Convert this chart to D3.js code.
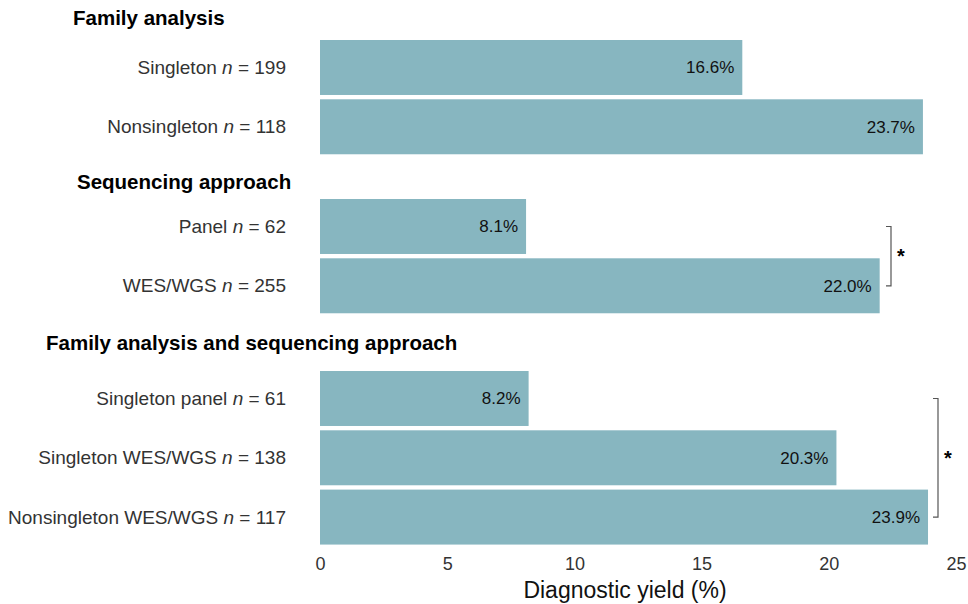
<!DOCTYPE html>
<html lang="en">
<head>
<meta charset="UTF-8" />
<title>Diagnostic yield</title>
<script src="https://d3js.org/d3.v7.min.js"></script>
<style>
    body { margin: 0; background: #fff; font-family: "Liberation Sans", Arial, sans-serif; }
</style>
</head>
<body>
<div id="chart"></div>
<script>
    // data
    const sections = ["Family analysis", "Sequencing approach", "Family analysis and sequencing approach"];
    const categories = [
        ["Singleton", "Nonsingleton"],
        ["Panel", "WES/WGS"],
        ["Singleton panel", "Singleton WES/WGS", "Nonsingleton WES/WGS"]
    ];
    const counts = [[199, 118], [62, 255], [61, 138, 117]];
    const yields = [[16.6, 23.7], [8.1, 22.0], [8.2, 20.3, 23.9]];
    const xTicks = [0, 5, 10, 15, 20, 25];
    // significance brackets: [section, first row, last row]
    const brackets = [[1, 0, 1], [2, 0, 2]];

    const width = 968, height = 604;
    const svg = d3.select("#chart").append("svg")
        .attr("width", width).attr("height", height);

    const x = d3.scaleLinear().domain([0, 25]).range([320, 956]);

    // layout of each section
    const sectionTop = [40, 199, 371];
    const headerY = [18, 182, 343];
    const headerX = [73, 77, 46];
    const step = 59.3;

    const yScales = categories.map((cats, i) => d3.scaleBand()
        .domain(cats)
        .range([sectionTop[i], sectionTop[i] + step * (cats.length - 0.073)])
        .paddingInner(0.073));

    sections.forEach((s, i) => {
        svg.append("text")
            .attr("x", headerX[i]).attr("y", headerY[i])
            .attr("dy", "0.35em")
            .style("font-size", "20.5px").style("font-weight", "bold")
            .attr("fill", "#000")
            .text(s);

        const y = yScales[i];
        const rows = categories[i].map((c, j) => ({ c, n: counts[i][j], v: yields[i][j] }));
        const g = svg.append("g");

        g.selectAll("rect").data(rows).join("rect")
            .attr("x", x(0))
            .attr("y", d => y(d.c))
            .attr("width", d => x(d.v) - x(0))
            .attr("height", y.bandwidth())
            .attr("fill", "#87b6c0");

        g.selectAll("text.val").data(rows).join("text")
            .attr("class", "val")
            .attr("x", d => x(d.v) - 8)
            .attr("y", d => y(d.c) + y.bandwidth() / 2)
            .attr("dy", "0.35em")
            .attr("text-anchor", "end")
            .style("font-size", "17px")
            .attr("fill", "#111")
            .text(d => d.v.toFixed(1) + "%");

        const lab = g.selectAll("text.cat").data(rows).join("text")
            .attr("class", "cat")
            .attr("x", 286)
            .attr("y", d => y(d.c) + y.bandwidth() / 2)
            .attr("dy", "0.35em")
            .attr("text-anchor", "end")
            .style("font-size", "19px")
            .attr("fill", "#333");
        lab.append("tspan").text(d => d.c + " ");
        lab.append("tspan").style("font-style", "italic").text("n");
        lab.append("tspan").text(d => " = " + d.n);
    });

    // brackets
    const bx = [891, 938];
    brackets.forEach(([s, a, b], k) => {
        const y = yScales[s];
        const y0 = y(categories[s][a]) + y.bandwidth() / 2;
        const y1 = y(categories[s][b]) + y.bandwidth() / 2;
        svg.append("path")
            .attr("d", `M${bx[k] - 5},${y0}H${bx[k]}V${y1}H${bx[k] - 5}`)
            .attr("fill", "none").attr("stroke", "#555").attr("stroke-width", 1.2);
        svg.append("text")
            .attr("x", bx[k] + 10).attr("y", (y0 + y1) / 2 + 7)
            .attr("text-anchor", "middle")
            .style("font-size", "20px").style("font-weight", "bold")
            .text("*");
    });

    // x axis
    const axis = svg.append("g")
        .attr("transform", "translate(0,557)")
        .call(d3.axisBottom(x).tickValues(xTicks).tickSize(0).tickPadding(0));
    axis.select(".domain").remove();
    axis.selectAll("text")
        .style("font-size", "18px")
        .style("font-family", "'Liberation Sans', Arial, sans-serif")
        .attr("fill", "#333");

    svg.append("text")
        .attr("x", 625).attr("y", 590)
        .attr("dy", "0.35em")
        .attr("text-anchor", "middle")
        .style("font-size", "23px")
        .attr("fill", "#111")
        .text("Diagnostic yield (%)");
</script>
</body>
</html>
